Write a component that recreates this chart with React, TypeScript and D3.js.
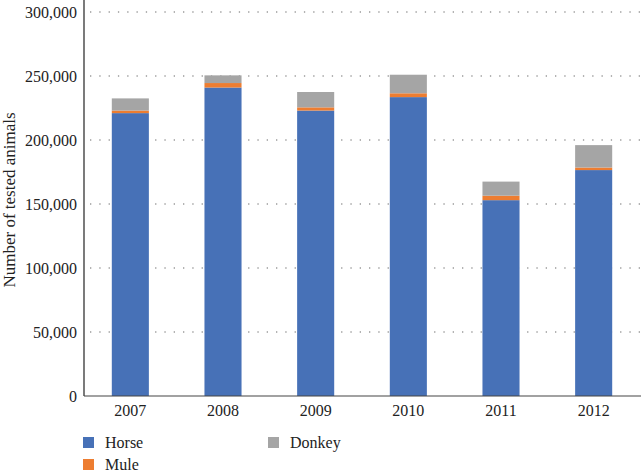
import React from "react";
import * as d3 from "d3";

const years = ["2007", "2008", "2009", "2010", "2011", "2012"];
const horse = [221000, 241000, 223000, 233500, 153000, 176500];
const mule = [2000, 3500, 2500, 3000, 3500, 2000];
const donkey = [9500, 6000, 12000, 14500, 11000, 17500];
const seriesNames = ["Horse", "Mule", "Donkey"];
const yTicks = [0, 50000, 100000, 150000, 200000, 250000, 300000];

const colors: Record<string, string> = {
  Horse: "#4771b7",
  Mule: "#ed7d31",
  Donkey: "#a5a5a5",
};

const W = 641;
const H = 472;
const left = 84;
const right = 640;
const top = 12;
const bottom = 396;
const font = "'Liberation Serif', 'Times New Roman', serif";

export default function App() {
  const x = d3.scaleBand<string>().domain(years).range([left, right]).paddingInner(0.6).paddingOuter(0.3);
  const y = d3.scaleLinear().domain([0, 300000]).range([bottom, top]);

  const rows = years.map((yr, i) => ({ year: yr, Horse: horse[i], Mule: mule[i], Donkey: donkey[i] }));
  const stack = d3.stack<any>().keys(seriesNames)(rows);
  const fmt = d3.format(",");

  return (
    <svg width={W} height={H} style={{ position: "absolute", left: 0, top: 0, background: "#fff" }}>
      {yTicks.filter((t) => t > 0).map((t) => (
        <line key={t} x1={left + 6} x2={W} y1={y(t)} y2={y(t)} stroke="#9a9a9a" strokeWidth={1.3} strokeDasharray="1.3,8" />
      ))}
      {stack.map((s) => (
        <g key={s.key} fill={colors[s.key]}>
          {s.map((d, i) => (
            <rect key={i} x={x(years[i])!} width={x.bandwidth()} y={y(d[1])} height={y(d[0]) - y(d[1])} />
          ))}
        </g>
      ))}
      <line x1={left} x2={left} y1={0} y2={bottom} stroke="#222" strokeWidth={1.2} />
      <line x1={left} x2={W} y1={bottom} y2={bottom} stroke="#444" strokeWidth={1.2} />
      {yTicks.map((t) => (
        <text key={t} x={77} y={y(t)} dy="0.35em" textAnchor="end" fontFamily={font} fontSize={16} fill="#222">
          {fmt(t)}
        </text>
      ))}
      {years.map((yr) => (
        <text key={yr} x={x(yr)! + x.bandwidth() / 2} y={416} textAnchor="middle" fontFamily={font} fontSize={16} fill="#222">
          {yr}
        </text>
      ))}
      <text transform={`translate(15,${(top + bottom) / 2 - 4}) rotate(-90)`} textAnchor="middle" fontFamily={font} fontSize={17} fill="#222">
        Number of tested animals
      </text>
      {[
        { name: "Horse", lx: 83, ly: 437 },
        { name: "Donkey", lx: 268, ly: 437 },
        { name: "Mule", lx: 83, ly: 459 },
      ].map((l) => (
        <g key={l.name}>
          <rect x={l.lx} y={l.ly} width={11} height={11} fill={colors[l.name]} />
          <text x={l.lx + 22} y={l.ly + 11} fontFamily={font} fontSize={16} fill="#222">
            {l.name}
          </text>
        </g>
      ))}
    </svg>
  );
}
